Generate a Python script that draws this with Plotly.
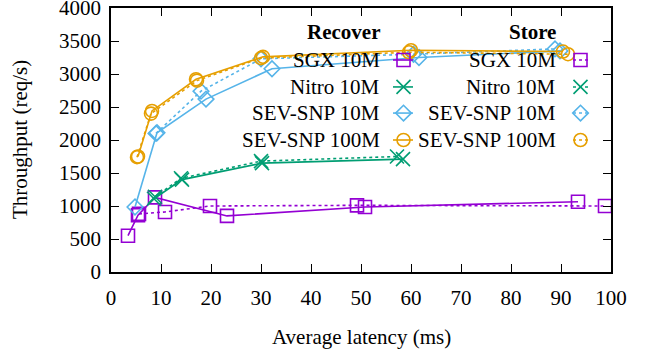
import plotly.graph_objects as go

# ---- data (latency ms, throughput req/s) ----
sgx_rec_x = [3.4, 5.4, 8.8, 23.2, 50.8, 93.4]
sgx_rec_y = [550, 860, 1130, 850, 985, 1065]
sgx_sto_x = [5.6, 10.8, 19.8, 49.2, 98.8]
sgx_sto_y = [880, 910, 1000, 1010, 1000]

nitro_rec_x = [8.6, 14.2, 30.2, 58.4]
nitro_rec_y = [1110, 1400, 1650, 1710]
nitro_sto_x = [8.8, 14.0, 30.0, 57.2]
nitro_sto_y = [1140, 1420, 1680, 1750]

sev10_rec_x = [4.8, 9.2, 19.0, 32.2, 61.6, 89.8]
sev10_rec_y = [985, 2110, 2620, 3080, 3250, 3350]
sev10_sto_x = [9.0, 18.0, 30.0, 60.5, 88.8]
sev10_sto_y = [2100, 2740, 3230, 3300, 3380]

sev100_rec_x = [5.4, 8.2, 17.0, 30.4, 60.0, 90.4]
sev100_rec_y = [1750, 2440, 2920, 3260, 3360, 3340]
sev100_sto_x = [5.2, 8.0, 17.2, 30.0, 59.6, 91.4]
sev100_sto_y = [1740, 2400, 2900, 3240, 3330, 3300]

x_ticks = [0, 10, 20, 30, 40, 50, 60, 70, 80, 90, 100]
y_ticks = [0, 500, 1000, 1500, 2000, 2500, 3000, 3500, 4000]

series_names = ["SGX 10M", "Nitro 10M", "SEV-SNP 10M", "SEV-SNP 100M"]
colors = ["#9400D3", "#009E73", "#56B4E9", "#E69F00"]
symbols = ["square-open", "x-thin-open", "diamond-open", "circle-open"]
msizes = [13, 14, 12, 13]

recover = [(sgx_rec_x, sgx_rec_y), (nitro_rec_x, nitro_rec_y),
           (sev10_rec_x, sev10_rec_y), (sev100_rec_x, sev100_rec_y)]
store = [(sgx_sto_x, sgx_sto_y), (nitro_sto_x, nitro_sto_y),
         (sev10_sto_x, sev10_sto_y), (sev100_sto_x, sev100_sto_y)]

FONT = "'Liberation Serif', 'DejaVu Serif', 'Times New Roman', serif"
FS = 21

fig = go.Figure()

for i, name in enumerate(series_names):
    sx, sy = store[i]
    fig.add_trace(go.Scatter(
        x=sx, y=sy, mode="lines+markers", name=name + " Store", showlegend=False,
        line=dict(color=colors[i], width=1.6, dash="dot"),
        marker=dict(symbol=symbols[i], size=msizes[i],
                    line=dict(color=colors[i], width=1.6), color=colors[i])))
    rx, ry = recover[i]
    fig.add_trace(go.Scatter(
        x=rx, y=ry, mode="lines+markers", name=name + " Recover", showlegend=False,
        line=dict(color=colors[i], width=1.6),
        marker=dict(symbol=symbols[i], size=msizes[i],
                    line=dict(color=colors[i], width=1.6), color=colors[i])))

# ---- manual gnuplot-style key (on an overlay axis spanning the plot area) ----
row_y = [0.803, 0.701, 0.602, 0.500]
col_text_x = [0.542, 0.894]
col_line = [(0.564, 0.604, 0.585), (0.924, 0.954, 0.939)]
col_dash = ["solid", "dot"]
col_titles = ["Recover", "Store"]

for c in range(2):
    x0, x1, xm = col_line[c]
    fig.add_annotation(x=col_text_x[c], y=0.909, xref="paper", yref="paper",
                       text="<b>" + col_titles[c] + "</b>", showarrow=False,
                       xanchor="right", yanchor="middle",
                       font=dict(family=FONT, size=FS, color="black"))
    for i, name in enumerate(series_names):
        fig.add_annotation(x=col_text_x[c], y=row_y[i], xref="paper", yref="paper",
                           text=name, showarrow=False, xanchor="right", yanchor="middle",
                           font=dict(family=FONT, size=FS, color="black"))
        fig.add_trace(go.Scatter(
            x=[x0, x1], y=[row_y[i], row_y[i]], xaxis="x2", yaxis="y2",
            mode="lines", showlegend=False, hoverinfo="skip",
            line=dict(color=colors[i], width=1.6, dash=col_dash[c])))
        fig.add_trace(go.Scatter(
            x=[xm], y=[row_y[i]], xaxis="x2", yaxis="y2",
            mode="markers", showlegend=False, hoverinfo="skip",
            marker=dict(symbol=symbols[i], size=msizes[i], color=colors[i],
                        line=dict(color=colors[i], width=1.6))))

axis_common = dict(
    showgrid=False, zeroline=False, showline=True, linecolor="black", linewidth=1.5,
    mirror="allticks", ticks="inside", ticklen=8, tickwidth=1.2, tickcolor="black",
    tickfont=dict(family=FONT, size=FS, color="black"), automargin=False,
    ticklabeloverflow="allow",
)

# axis titles as annotations for exact placement
fig.add_annotation(x=0.5, y=-65 / 264, xref="paper", yref="paper",
                   text="Average latency (ms)", showarrow=False,
                   xanchor="center", yanchor="middle",
                   font=dict(family=FONT, size=FS, color="black"))
fig.add_annotation(x=-91 / 500, y=0.5, xref="paper", yref="paper",
                   text="Throughput (req/s)", showarrow=False, textangle=-90,
                   xanchor="center", yanchor="middle",
                   font=dict(family=FONT, size=FS, color="black"))

fig.update_layout(
    width=650, height=354,
    margin=dict(l=111, r=39, t=8, b=82, autoexpand=False),
    paper_bgcolor="white", plot_bgcolor="white",
    showlegend=False,
    font=dict(family=FONT, size=FS, color="black"),
    xaxis=dict(range=[0, 100], tickvals=x_ticks, ticktext=[str(v) for v in x_ticks],
               ticklabelstandoff=6, **axis_common),
    yaxis=dict(range=[0, 4000], tickvals=y_ticks, ticktext=[str(v) for v in y_ticks],
               ticklabelstandoff=4, **axis_common),
    xaxis2=dict(range=[0, 1], overlaying="x", visible=False, fixedrange=True),
    yaxis2=dict(range=[0, 1], overlaying="y", visible=False, fixedrange=True),
)

fig.write_html("out.html", config={"displayModeBar": False},
               post_script="document.body.style.margin='0';document.body.style.padding='0';")
